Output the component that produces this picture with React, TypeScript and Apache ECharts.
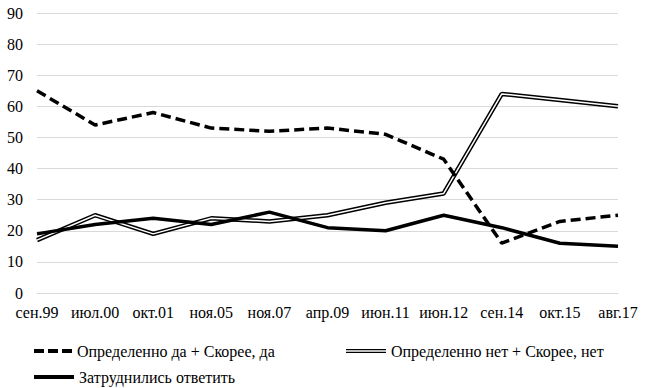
import React, { useEffect, useRef } from "react";
import * as echarts from "echarts";

const categories = ["сен.99", "июл.00", "окт.01", "ноя.05", "ноя.07", "апр.09", "июн.11", "июн.12", "сен.14", "окт.15", "авг.17"];
const seriesYes = [65, 54, 58, 53, 52, 53, 51, 43, 16, 23, 25];
const seriesNo = [17, 25, 19, 24, 23, 25, 29, 32, 64, 62, 60];
const seriesHard = [19, 22, 24, 22, 26, 21, 20, 25, 21, 16, 15];
const nameYes = "Определенно да + Скорее, да";
const nameNo = "Определенно нет + Скорее, нет";
const nameHard = "Затруднились ответить";

const FONT = "Liberation Serif";

export default function App() {
  const ref = useRef<HTMLDivElement>(null);
  useEffect(() => {
    if (!ref.current) return;
    const chart = echarts.init(ref.current, null, { renderer: "svg" });
    const legendText = { fontFamily: FONT, fontSize: 16, color: "#000", lineHeight: 18 };
    chart.setOption({
      animation: false,
      backgroundColor: "#fff",
      textStyle: { fontFamily: FONT },
      grid: { left: 37, right: 32, top: 13, bottom: 95, containLabel: false },
      xAxis: {
        type: "category",
        data: categories,
        boundaryGap: false,
        axisLine: { show: true, lineStyle: { color: "#d9d9d9", width: 1 } },
        axisTick: { show: false },
        axisLabel: { fontFamily: FONT, fontSize: 16, color: "#000", margin: 11, interval: 0 },
        splitLine: { show: false },
      },
      yAxis: {
        type: "value",
        min: 0,
        max: 90,
        interval: 10,
        axisLine: { show: false },
        axisTick: { show: false },
        axisLabel: { fontFamily: FONT, fontSize: 16, color: "#000", margin: 14 },
        splitLine: { show: true, lineStyle: { color: "#d9d9d9", width: 1 } },
      },
      legend: [
        {
          data: [{ name: nameYes, icon: "path://M0,0H10V4H0Z M14,0H24V4H14Z M28,0H38V4H28Z" }],
          left: 34, top: 342, padding: 0, itemWidth: 38, itemHeight: 4, selectedMode: false,
          textStyle: legendText,
        },
        {
          data: [{ name: nameNo, icon: "path://M0,0H40V4H0Z M0,1.3V2.7H40V1.3Z" }],
          left: 346, top: 342, padding: 0, itemWidth: 40, itemHeight: 4, selectedMode: false,
          textStyle: legendText,
        },
        {
          data: [{ name: nameHard, icon: "rect" }],
          left: 34, top: 368, padding: 0, itemWidth: 40, itemHeight: 4, selectedMode: false,
          textStyle: legendText,
        },
      ],
      series: [
        {
          name: nameNo,
          type: "line",
          data: seriesNo,
          showSymbol: false,
          symbol: "none",
          color: "#000",
          lineStyle: { color: "#000", width: 4.5 },
          z: 2,
        },
        {
          name: "_noInner",
          type: "line",
          data: seriesNo,
          showSymbol: false,
          symbol: "none",
          color: "#fff",
          lineStyle: { color: "#fff", width: 1.5 },
          z: 3,
        },
        {
          name: nameHard,
          type: "line",
          data: seriesHard,
          showSymbol: false,
          symbol: "none",
          color: "#000",
          lineStyle: { color: "#000", width: 3.5 },
          z: 4,
        },
        {
          name: nameYes,
          type: "line",
          data: seriesYes,
          showSymbol: false,
          symbol: "none",
          color: "#000",
          lineStyle: { color: "#000", width: 3.5, type: [10, 5], cap: "butt" },
          z: 5,
        },
      ],
    });
    return () => chart.dispose();
  }, []);
  return <div ref={ref} style={{ width: 650, height: 388, position: "absolute", left: 0, top: 0 }} />;
}
